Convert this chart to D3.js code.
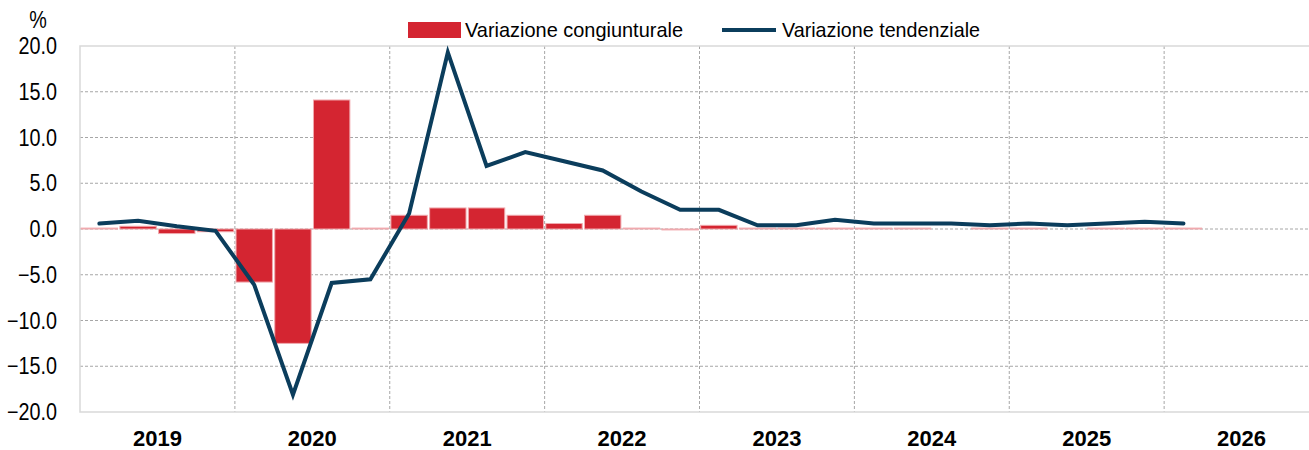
<!DOCTYPE html>
<html>
<head>
<meta charset="utf-8">
<script src="https://cdn.jsdelivr.net/npm/d3@7"></script>
<style>
  body { margin: 0; background: #fff; }
  svg { display: block; font-family: "Liberation Sans", Arial, sans-serif; }
</style>
</head>
<body>
<div id="chart"></div>
<script>
// years on the x axis, 4 quarters each
var years = ['2019', '2020', '2021', '2022', '2023', '2024', '2025', '2026'];
var yTicks = [-20, -15, -10, -5, 0, 5, 10, 15, 20];

// variazione congiunturale (bars), 2019Q1 .. 2026Q1
var congiunturale = [0.1, 0.3, -0.5, -0.3, -5.8, -12.5, 14.1, 0.1,
                     1.5, 2.3, 2.3, 1.5, 0.6, 1.5, 0.1, -0.1,
                     0.4, 0.1, 0.1, 0.1, 0.1, 0.1, 0, 0.1,
                     0.1, 0, 0.1, 0.1, 0.1];

// variazione tendenziale (line), 2019Q1 .. 2026Q1
var tendenziale = [0.6, 0.9, 0.3, -0.2, -6.1, -18.1, -5.9, -5.5,
                   1.7, 19.3, 6.9, 8.4, 7.4, 6.4, 4.1, 2.1,
                   2.1, 0.4, 0.4, 1.0, 0.6, 0.6, 0.6, 0.4,
                   0.6, 0.4, 0.6, 0.8, 0.6];

var width = 1309, height = 450;
var margin = { left: 80, right: -10, top: 46, bottom: 38 };

var svg = d3.select('#chart')
    .append('svg')
    .attr('width', width)
    .attr('height', height);

var quarters = d3.range(years.length * 4);

var x = d3.scaleBand()
    .domain(quarters)
    .range([margin.left, width - margin.right])
    .paddingInner(0.06)
    .paddingOuter(0.03);

var y = d3.scaleLinear()
    .domain([-20, 20])
    .range([height - margin.bottom, margin.top]);

var x0 = margin.left, x1 = width - margin.right;
function yearEdge(i) { return x0 + (x1 - x0) * i / years.length; }

// horizontal grid
svg.append('g')
    .selectAll('line')
    .data(yTicks.filter(function (d) { return d !== -20 && d !== 20; }))
    .enter()
    .append('line')
    .attr('x1', x0).attr('x2', x1)
    .attr('y1', function (d) { return y(d); })
    .attr('y2', function (d) { return y(d); })
    .attr('stroke', '#a6a6a6')
    .attr('stroke-width', 1)
    .attr('stroke-dasharray', '3,2');

// vertical year separators
svg.append('g')
    .selectAll('line')
    .data(d3.range(1, years.length))
    .enter()
    .append('line')
    .attr('x1', function (d) { return yearEdge(d); })
    .attr('x2', function (d) { return yearEdge(d); })
    .attr('y1', y(20)).attr('y2', y(-20))
    .attr('stroke', '#a6a6a6')
    .attr('stroke-width', 1)
    .attr('stroke-dasharray', '3,2');

// plot border
svg.append('rect')
    .attr('x', x0).attr('y', y(20))
    .attr('width', x1 - x0).attr('height', y(-20) - y(20))
    .attr('fill', 'none')
    .attr('stroke', '#d9d9d9')
    .attr('stroke-width', 1.5);

// bars
svg.append('g')
    .selectAll('rect')
    .data(congiunturale.map(function (v, i) { return { i: i, v: v }; })
        .filter(function (d) { return d.v !== 0; }))
    .enter()
    .append('rect')
    .attr('x', function (d) { return x(d.i); })
    .attr('width', x.bandwidth())
    .attr('y', function (d) { return Math.min(y(d.v), y(0)); })
    .attr('height', function (d) { return Math.abs(y(d.v) - y(0)); })
    .attr('fill', '#d42531')
    .attr('stroke', '#f0a9ae')
    .attr('stroke-width', 1);

// line
var line = d3.line()
    .x(function (d, i) { return x(i) + x.bandwidth() / 2; })
    .y(function (d) { return y(d); });

svg.append('path')
    .datum(tendenziale)
    .attr('d', line)
    .attr('fill', 'none')
    .attr('stroke', '#0b3d5c')
    .attr('stroke-width', 4)
    .attr('stroke-linejoin', 'miter')
    .attr('stroke-linecap', 'round');

// y tick labels (condensed)
svg.append('g')
    .selectAll('text')
    .data(yTicks)
    .enter()
    .append('text')
    .attr('transform', function (d) { return 'translate(57,' + (y(d) + 8) + ') scale(0.86,1)'; })
    .attr('text-anchor', 'end')
    .attr('font-size', 23)
    .attr('fill', '#000')
    .text(function (d) { return d3.format('.1f')(d); });

svg.append('text')
    .attr('transform', 'translate(38,28) scale(0.86,1)')
    .attr('text-anchor', 'middle')
    .attr('font-size', 23)
    .text('%');

// year labels
svg.append('g')
    .selectAll('text')
    .data(years)
    .enter()
    .append('text')
    .attr('x', function (d, i) { return (yearEdge(i) + yearEdge(i + 1)) / 2; })
    .attr('y', 446)
    .attr('text-anchor', 'middle')
    .attr('font-weight', 'bold')
    .attr('font-size', 22)
    .text(function (d) { return d; });

// legend
var legend = svg.append('g');
legend.append('rect')
    .attr('x', 408).attr('y', 22)
    .attr('width', 53).attr('height', 16)
    .attr('fill', '#d42531');
legend.append('text')
    .attr('x', 465).attr('y', 37)
    .attr('font-size', 21)
    .attr('textLength', 218)
    .attr('lengthAdjust', 'spacingAndGlyphs')
    .text('Variazione congiunturale');
legend.append('line')
    .attr('x1', 722).attr('x2', 776)
    .attr('y1', 30).attr('y2', 30)
    .attr('stroke', '#0b3d5c')
    .attr('stroke-width', 4);
legend.append('text')
    .attr('x', 782).attr('y', 37)
    .attr('font-size', 21)
    .attr('textLength', 198)
    .attr('lengthAdjust', 'spacingAndGlyphs')
    .text('Variazione tendenziale');
</script>
</body>
</html>
